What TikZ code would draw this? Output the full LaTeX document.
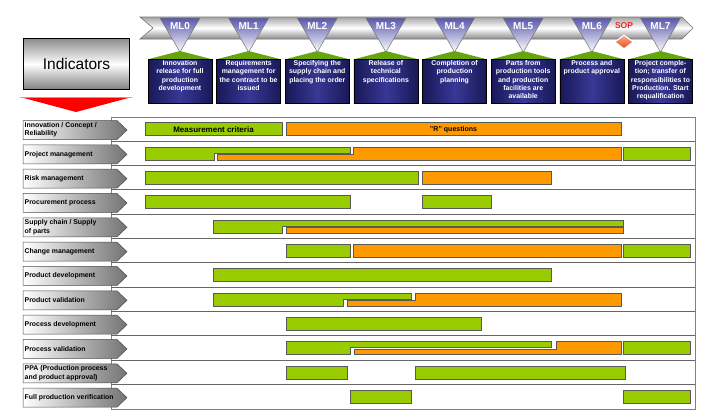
\documentclass[tikz,border=0pt]{standalone}
\usepackage{fontspec}
\setmainfont{Liberation Sans}
\usetikzlibrary{shapes.geometric}
\definecolor{barg}{RGB}{153,204,0}
\definecolor{baro}{RGB}{255,153,0}
\definecolor{mldark}{RGB}{24,24,88}
\definecolor{mlmid}{RGB}{56,56,150}
\definecolor{mltop}{RGB}{88,88,172}
\definecolor{roofg}{RGB}{102,164,16}
\definecolor{sopred}{RGB}{238,36,36}
\definecolor{sopa}{RGB}{252,170,130}
\definecolor{sopb}{RGB}{228,72,40}
\newcommand{\rowc}[1]{129.2+24.33*#1}
\newcommand{\gbar}[3]{\draw[barline,fill=barg] (#2,{\rowc{#1}-6.5}) rectangle (#3,{\rowc{#1}+6.5});}
\newcommand{\obar}[3]{\draw[barline,fill=baro] (#2,{\rowc{#1}-6.5}) rectangle (#3,{\rowc{#1}+6.5});}
\newcommand{\ohalf}[3]{\draw[barline,fill=baro] (#2,{\rowc{#1}+1}) rectangle (#3,{\rowc{#1}+6.5});}
\newcommand{\gstep}[4]{\draw[barline,fill=barg] (#2,{\rowc{#1}-6.5}) -- (#4,{\rowc{#1}-6.5}) -- (#4,{\rowc{#1}-0.5}) -- (#3,{\rowc{#1}-0.5}) -- (#3,{\rowc{#1}+6.5}) -- (#2,{\rowc{#1}+6.5}) -- cycle;}
\newcommand{\ostep}[4]{\draw[barline,fill=baro] (#2,{\rowc{#1}+6.5}) -- (#2,{\rowc{#1}+1}) -- (#3,{\rowc{#1}+1}) -- (#3,{\rowc{#1}-6.5}) -- (#4,{\rowc{#1}-6.5}) -- (#4,{\rowc{#1}+6.5}) -- cycle;}

\begin{document}
\begin{tikzpicture}[x=1pt,y=-1pt,
  barline/.style={draw=black!65,line width=0.7pt},
  rowline/.style={draw=black!60,line width=1pt},
  rowarrow/.style={draw=black!70,line width=0.5pt,left color=white,right color=black!55},
  rowtext/.style={anchor=west,align=left,inner sep=0pt,font=\bfseries\fontsize{6.9}{8.3}\selectfont},
  mltri/.style={draw=black!55,line width=0.5pt,top color=mltop,bottom color=white},
  mlname/.style={text=white,font=\bfseries\fontsize{10}{12}\selectfont,inner sep=0pt},
  mlbox/.style={draw=black,line width=0.6pt,minimum width=64pt,minimum height=44pt,inner sep=0pt,
    left color=mldark,right color=mldark,middle color=mlmid},
  mltext/.style={anchor=north,align=center,text=white,inner sep=1.5pt,
    font=\bfseries\fontsize{6.9}{8.3}\selectfont},
  sopmark/.style={diamond,draw=white,line width=1.1pt,minimum width=19pt,minimum height=14pt,
    inner sep=0pt,top color=sopa,bottom color=sopb}]
\useasboundingbox (0,0) rectangle (715,413);

\draw[draw=black!55,line width=0.6pt,top color=black!35,bottom color=black!45,middle color=white]
  (140,17) -- (682,17) -- (693,28) -- (682,39) -- (140,39) -- (153,28) -- cycle;

\foreach \t [count=\i from 0] in {{Innovation\\release for full\\production\\development},
  {Requirements\\management for\\the contract to be\\issued},
  {Specifying the\\supply chain and\\placing the order},
  {Release of\\technical\\specifications},
  {Completion of\\production\\planning},
  {Parts from\\production tools\\and production\\facilities are\\available},
  {Process and\\product approval},
  {Project comple-\\tion; transfer of\\responsibilities to\\Production. Start\\requalification}}{
  \pgfmathsetmacro{\cx}{180+68.64*\i}
  \draw[mltri] (\cx-20,18) -- (\cx+20,18) -- (\cx,52) -- cycle;
  \node[mlname] (n\i) at (\cx,26) {ML\i};
  \fill[roofg] (\cx-31,59) -- (\cx,51) -- (\cx+31,59) -- cycle;
  \node[mlbox] (m\i) at (\cx,81) {};
  \node[mltext] (t\i) at (m\i.north) {\t};
}

\node[text=sopred,font=\bfseries\fontsize{8.5}{10}\selectfont,inner sep=0pt] (sop) at (624,26) {SOP};
\node[sopmark,below of=sop,node distance=16pt] (sopd) {};

\node[draw=black,line width=0.8pt,minimum width=106pt,minimum height=51pt,
  top color=black!45,bottom color=black!50,middle color=white,
  font=\fontsize{15.5}{18}\selectfont] (ind) at (76.5,64) {Indicators};
\fill[red] (20,97) -- (132,97) -- (76,112) -- cycle;
\fill[black!35] (20,97) -- (132,97) -- (131.2,97.8) -- (20.8,97.8) -- cycle;

\draw[draw=black!50,line width=0.8pt] (111,117) rectangle (695,409);
\foreach \k in {1,...,11}
  \draw[rowline] (111,{117+24.33*\k}) -- (695,{117+24.33*\k});

\foreach \t [count=\i from 0] in {{Innovation / Concept /\\Reliability},
  Project management, Risk management, Procurement process,
  {Supply chain / Supply\\of parts}, Change management, Product development,
  Product validation, Process development, Process validation,
  {PPA (Production process\\and product approval)}, Full production verification}{
  \pgfmathsetmacro{\ly}{130+24.33*\i}
  \draw[rowarrow] (23,\ly-9.5) -- (117,\ly-9.5) -- (127,\ly) -- (117,\ly+9.5) -- (23,\ly+9.5) -- cycle;
  \node[rowtext] (r\i) at (24.5,\ly) {\t};
}

\node[barline,fill=barg,minimum width=137pt,minimum height=13pt,inner sep=0pt,
  font=\bfseries\fontsize{8}{9}\selectfont] (crit) at (213.5,{\rowc{0}}) {Measurement criteria};
\node[barline,fill=baro,minimum width=335pt,minimum height=13pt,inner sep=0pt,
  font=\bfseries\fontsize{7}{8}\selectfont] (rq) at (453.5,{\rowc{0}}) {"R" questions};

\gstep{1}{145}{214}{350}
\ostep{1}{217}{353}{621}
\gbar{1}{623}{690}

\gbar{2}{145}{418}
\obar{2}{422}{551}

\gbar{3}{145}{350}
\gbar{3}{422}{491}

\gstep{4}{213}{282}{623}
\ohalf{4}{286}{623}

\gbar{5}{286}{350}
\obar{5}{353}{621}
\gbar{5}{623}{690}

\gbar{6}{213}{551}

\gstep{7}{213}{343}{411}
\ostep{7}{347}{415}{621}

\gbar{8}{286}{481}

\gstep{9}{286}{350}{551}
\ostep{9}{354}{556}{621}
\gbar{9}{623}{690}

\gbar{10}{286}{347}
\gbar{10}{415}{625}

\gbar{11}{350}{411}
\gbar{11}{623}{690}
\end{tikzpicture}
\end{document}
